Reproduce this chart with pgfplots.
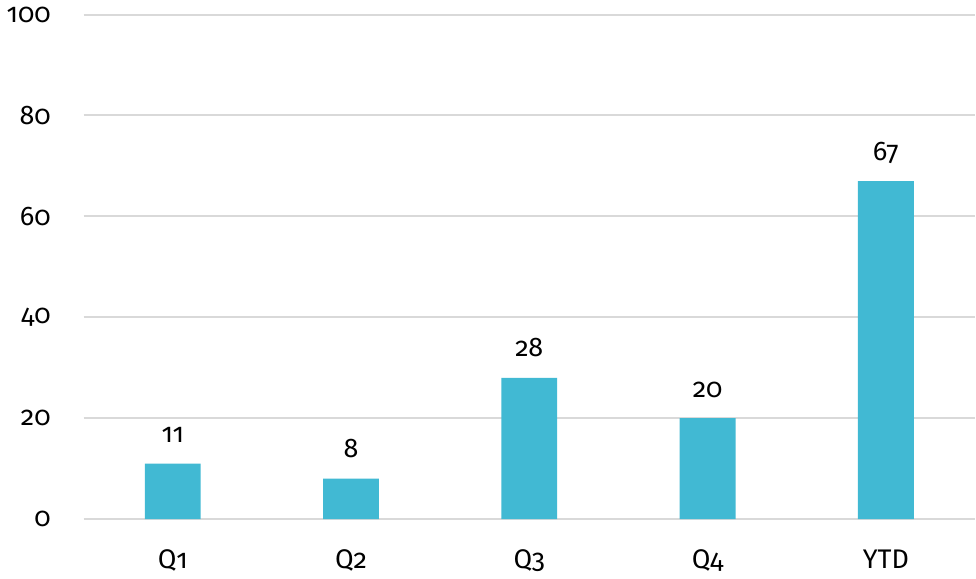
\documentclass[border=0pt]{standalone}
\usepackage{pgfplots}
\pgfplotsset{compat=1.18}
\usepackage{fontspec}
\setmainfont[Numbers=OldStyle]{Fira Sans}

\definecolor{barblue}{HTML}{41B9D3}
\definecolor{gridgray}{HTML}{D9D9D9}

\begin{document}
\begin{tikzpicture}
\begin{axis}[
    width=447pt, height=253pt,
    scale only axis,
    ybar, bar width=28pt,
    xmin=-0.5, xmax=4.5,
    ymin=0, ymax=100,
    ytick={0,20,...,100},
    xtick=data,
    xticklabels={Q1,Q2,Q3,Q4,YTD},
    axis line style={draw=none},
    major tick length=0pt,
    ymajorgrids,
    grid style={gridgray, line width=1pt},
    /pgf/number format/assume math mode=true,
    tick label style={font=\fontsize{13.5}{15}\selectfont, text=black},
    yticklabel style={anchor=east, xshift=-13pt},
    xticklabel style={anchor=north, yshift=-12pt},
    nodes near coords,
    nodes near coords style={font=\fontsize{13.5}{15}\selectfont, anchor=base, yshift=10.5pt},
]
\addplot[fill=barblue, draw=none] coordinates {(0,11) (1,8) (2,28) (3,20) (4,67)};
\end{axis}
\end{tikzpicture}
\end{document}
